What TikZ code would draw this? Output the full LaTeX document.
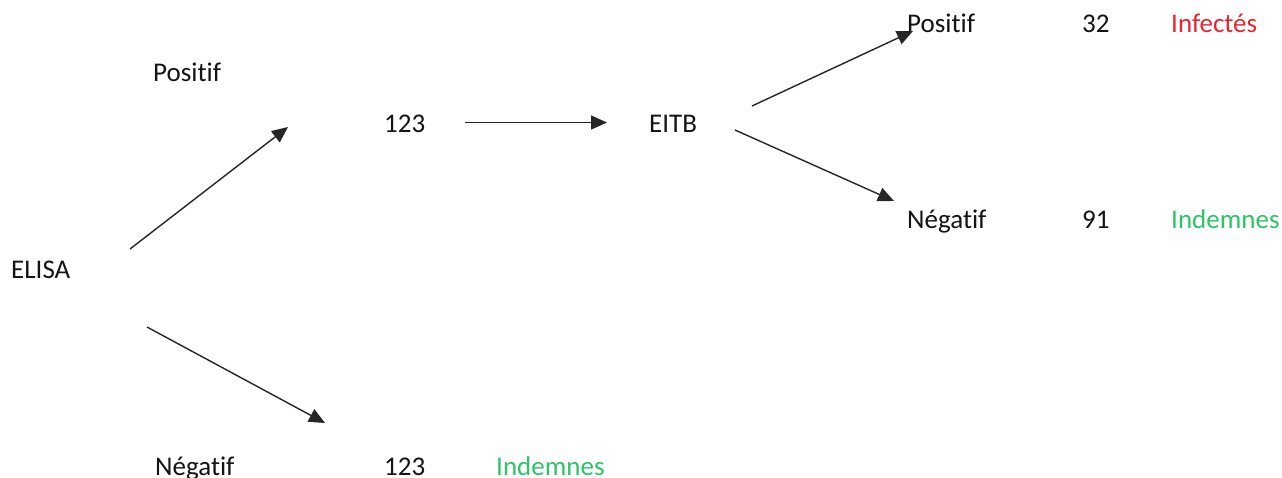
\documentclass[tikz,border=0pt]{standalone}
\usepackage{fontspec}
\setmainfont{Carlito}[Ligatures=NoCommon, RawFeature=-liga]
\usetikzlibrary{arrows.meta}
\definecolor{infred}{RGB}{232,36,48}
\definecolor{indgreen}{RGB}{46,196,104}
\definecolor{txt}{RGB}{20,20,20}
\tikzset{
  lbl/.style={anchor=base west, inner sep=0pt, text=txt, font=\fontsize{27}{32}\selectfont},
  arr/.style={draw=black!85, line width=1.4pt, -{Triangle[length=16pt,width=14pt]}}
}
\begin{document}
\begin{tikzpicture}[x=1pt,y=-1pt]
\useasboundingbox[fill=white] (0,0) rectangle (1282,477);
% labels
\node[lbl] (elisa) at (11,278) {ELISA};
\node[lbl] (posA) at (153,81) {Positif};
\node[lbl] (n123a) at (384,132) {123};
\node[lbl] (eitb) at (649,132) {EITB};
\node[lbl] (posB) at (907,32) {Positif};
\node[lbl] (n32) at (1082,32) {32};
\node[lbl, text=infred] (inf) at (1171,32) {Infectés};
\node[lbl] (negB) at (907,228) {Négatif};
\node[lbl] (n91) at (1082,228) {91};
\node[lbl, text=indgreen] (indB) at (1171,228) {Indemnes};
\node[lbl] (negA) at (155,475) {Négatif};
\node[lbl] (n123b) at (384,475) {123};
\node[lbl, text=indgreen] (indA) at (496,475) {Indemnes};
% arrow end points
\coordinate (a1s) at (130,249);
\coordinate (a1e) at (288,127);
\coordinate (a2s) at (147,327);
\coordinate (a2e) at (325,423);
\coordinate (a3s) at (465,122.5);
\coordinate (a3e) at (607,122.5);
\coordinate (a4s) at (752,106);
\coordinate (a4e) at (913,31);
\coordinate (a5s) at (735,130);
\coordinate (a5e) at (894,201);
\draw[arr] (a1s) -- (a1e);
\draw[arr] (a2s) -- (a2e);
\draw[arr] (a3s) -- (a3e);
\draw[arr] (a4s) -- (a4e);
\draw[arr] (a5s) -- (a5e);
\end{tikzpicture}
\end{document}
